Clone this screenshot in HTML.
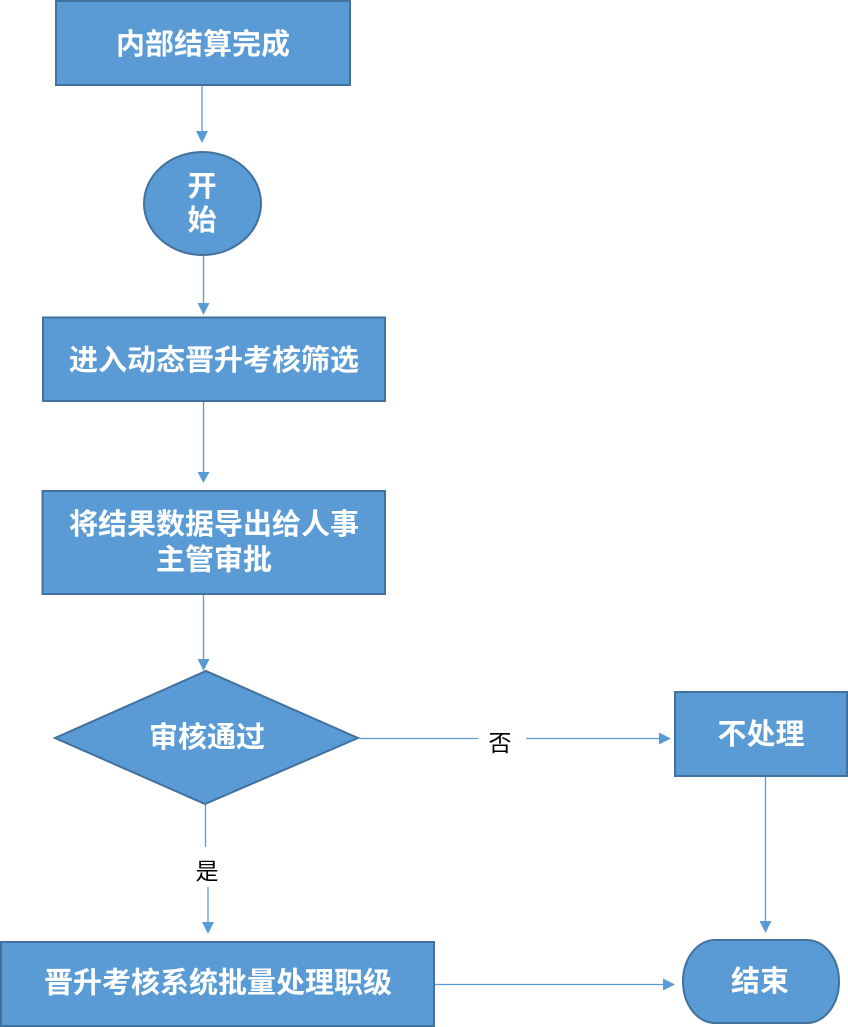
<!DOCTYPE html>
<html><head><meta charset="utf-8"><style>
html,body{margin:0;padding:0;background:#fff;}
svg{display:block;}
.t{font-family:"Liberation Sans","Noto Sans CJK SC",sans-serif;font-weight:bold;font-size:29px;fill:#fff;text-anchor:middle;dominant-baseline:central;}
.l{font-family:"Liberation Sans","Noto Sans CJK SC",sans-serif;font-size:23px;fill:#000;text-anchor:middle;dominant-baseline:central;}
</style></head><body>
<svg width="848" height="1027" viewBox="0 0 848 1027" xmlns="http://www.w3.org/2000/svg">
<g fill="#5B9BD5" stroke="#41719C" stroke-width="2">
<rect x="56" y="1" width="294" height="84"/>
<ellipse cx="202.5" cy="203.5" rx="58.5" ry="51.5"/>
<rect x="43" y="317.5" width="342" height="83.5"/>
<rect x="42.5" y="491" width="342.5" height="103"/>
<polygon points="55,738 206,671 358,738 205,804"/>
<rect x="1" y="942" width="433" height="84"/>
<rect x="675" y="692" width="172" height="84"/>
<rect x="683" y="940" width="156" height="83" rx="32" ry="42"/>
</g>
<g stroke="#5B9BD5" stroke-width="1.3" fill="none">
<line x1="202" y1="86" x2="202" y2="132"/>
<line x1="203.5" y1="256" x2="203.5" y2="304"/>
<line x1="203.5" y1="402" x2="203.5" y2="472"/>
<line x1="203.5" y1="595" x2="203.5" y2="660"/>
<line x1="205.5" y1="805" x2="205.5" y2="847"/>
<line x1="208" y1="887" x2="208" y2="923"/>
<line x1="358" y1="738.5" x2="478" y2="738.5"/>
<line x1="526" y1="738.5" x2="660" y2="738.5"/>
<line x1="765.5" y1="777" x2="765.5" y2="922"/>
<line x1="435" y1="984.5" x2="664" y2="984.5"/>
</g>
<g fill="#5B9BD5">
<polygon points="196,131 208,131 202,143"/>
<polygon points="197.5,303 209.5,303 203.5,315"/>
<polygon points="197.5,472 209.5,472 203.5,483"/>
<polygon points="197.5,659 209.5,659 203.5,671"/>
<polygon points="202,922 214,922 208,934"/>
<polygon points="659,732.5 659,744.5 671,738.5"/>
<polygon points="759.5,921 771.5,921 765.5,933"/>
<polygon points="663,978.5 663,990.5 675,984.5"/>
</g>
<text class="t" x="203" y="45">内部结算完成</text>
<text class="t" x="202" y="187">开</text>
<text class="t" x="202" y="221">始</text>
<text class="t" x="214" y="361">进入动态晋升考核筛选</text>
<text class="t" x="214" y="525">将结果数据导出给人事</text>
<text class="t" x="214" y="560.5">主管审批</text>
<text class="t" x="207" y="738">审核通过</text>
<text class="t" x="218" y="983.5">晋升考核系统批量处理职级</text>
<text class="t" x="761" y="735">不处理</text>
<text class="t" x="760" y="982">结束</text>
<text class="l" x="500" y="743">否</text>
<text class="l" x="207" y="871">是</text>
</svg>
</body></html>
